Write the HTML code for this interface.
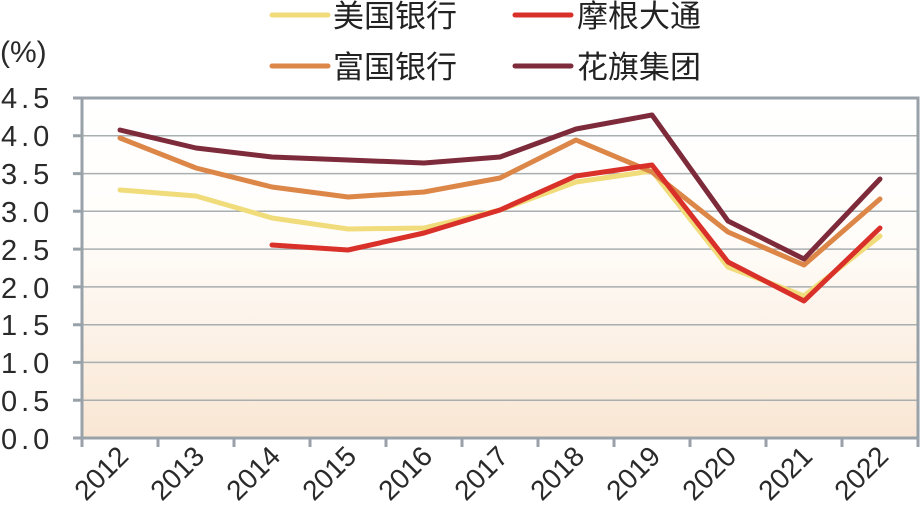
<!DOCTYPE html>
<html><head><meta charset="utf-8"><style>
html,body{margin:0;padding:0;background:#fff;}
svg{display:block;}
text{font-family:"Liberation Sans","Noto Sans CJK SC",sans-serif;}
</style></head><body>
<svg width="920" height="510" viewBox="0 0 920 510" xmlns="http://www.w3.org/2000/svg">
<defs>
<linearGradient id="bg" x1="0" y1="0" x2="0" y2="1">
<stop offset="0" stop-color="#ffffff"/>
<stop offset="0.4" stop-color="#fffdfa"/>
<stop offset="1" stop-color="#f9e6d3"/>
</linearGradient>
</defs>
<rect x="82" y="98" width="836" height="340" fill="url(#bg)"/>
<g stroke="#a9aeb1" stroke-width="1.5">
<line x1="82" y1="135.8" x2="918" y2="135.8"/>
<line x1="82" y1="173.6" x2="918" y2="173.6"/>
<line x1="82" y1="211.3" x2="918" y2="211.3"/>
<line x1="82" y1="249.1" x2="918" y2="249.1"/>
<line x1="82" y1="286.9" x2="918" y2="286.9"/>
<line x1="82" y1="324.7" x2="918" y2="324.7"/>
<line x1="82" y1="362.4" x2="918" y2="362.4"/>
<line x1="82" y1="400.2" x2="918" y2="400.2"/>
</g>
<g stroke="#98a2a8" stroke-width="3" fill="none">
<polyline points="82,98 918,98 918,438 82,438 82,98"/>
<path d="M73,98H82M73,135.8H82M73,173.6H82M73,211.3H82M73,249.1H82M73,286.9H82M73,324.7H82M73,362.4H82M73,400.2H82M73,438H82"/>
<path d="M82,438V447M158,438V447M234,438V447M310,438V447M386,438V447M462,438V447M538,438V447M614,438V447M690,438V447M766,438V447M842,438V447M918,438V447"/>
</g>
<g font-size="29" fill="#2a2a2a" letter-spacing="4">
<text x="1" y="108">4.5</text><text x="1" y="146">4.0</text><text x="1" y="184">3.5</text>
<text x="1" y="222">3.0</text><text x="1" y="260">2.5</text><text x="1" y="298">2.0</text>
<text x="1" y="335">1.5</text><text x="1" y="373">1.0</text><text x="1" y="411">0.5</text>
<text x="1" y="449">0.0</text>
</g>
<text x="0" y="62" font-size="30" fill="#2a2a2a">(%)</text>
<g font-size="28" fill="#2a2a2a" text-anchor="end">
<text transform="translate(130,458) rotate(-45)">2012</text>
<text transform="translate(206,458) rotate(-45)">2013</text>
<text transform="translate(282,458) rotate(-45)">2014</text>
<text transform="translate(358,458) rotate(-45)">2015</text>
<text transform="translate(434,458) rotate(-45)">2016</text>
<text transform="translate(510,458) rotate(-45)">2017</text>
<text transform="translate(586,458) rotate(-45)">2018</text>
<text transform="translate(662,458) rotate(-45)">2019</text>
<text transform="translate(738,458) rotate(-45)">2020</text>
<text transform="translate(814,458) rotate(-45)">2021</text>
<text transform="translate(890,458) rotate(-45)">2022</text>
</g>
<g fill="none" stroke-width="5" stroke-linejoin="round" stroke-linecap="round">
<polyline stroke="#f0dc7a" points="120,190 196,196 272,218 348,229 424,228 500,210 576,182 652,171 728,267 804,296 880,236"/>
<polyline stroke="#dc8648" points="120,138 196,168 272,187 348,197 424,192 500,178 576,140 652,172 728,232 804,265 880,199"/>
<polyline stroke="#d9302a" points="272,245 348,250 424,233 500,210 576,176 652,165 728,262 804,301 880,228"/>
<polyline stroke="#7d2a3a" points="120,130 196,148 272,157 348,160 424,163 500,157 576,129 652,115 728,221 804,259 880,179"/>
</g>
<g stroke-width="5" stroke-linecap="round">
<line x1="272" y1="15" x2="328" y2="15" stroke="#f0dc7a"/>
<line x1="515" y1="15" x2="571" y2="15" stroke="#d9302a"/>
<line x1="272" y1="66" x2="328" y2="66" stroke="#dc8648"/>
<line x1="515" y1="66" x2="571" y2="66" stroke="#7d2a3a"/>
</g>
<g font-size="31" fill="#222">
<text x="333" y="27">美国银行</text>
<text x="577" y="27">摩根大通</text>
<text x="333" y="78">富国银行</text>
<text x="577" y="78">花旗集团</text>
</g>
</svg>
</body></html>
